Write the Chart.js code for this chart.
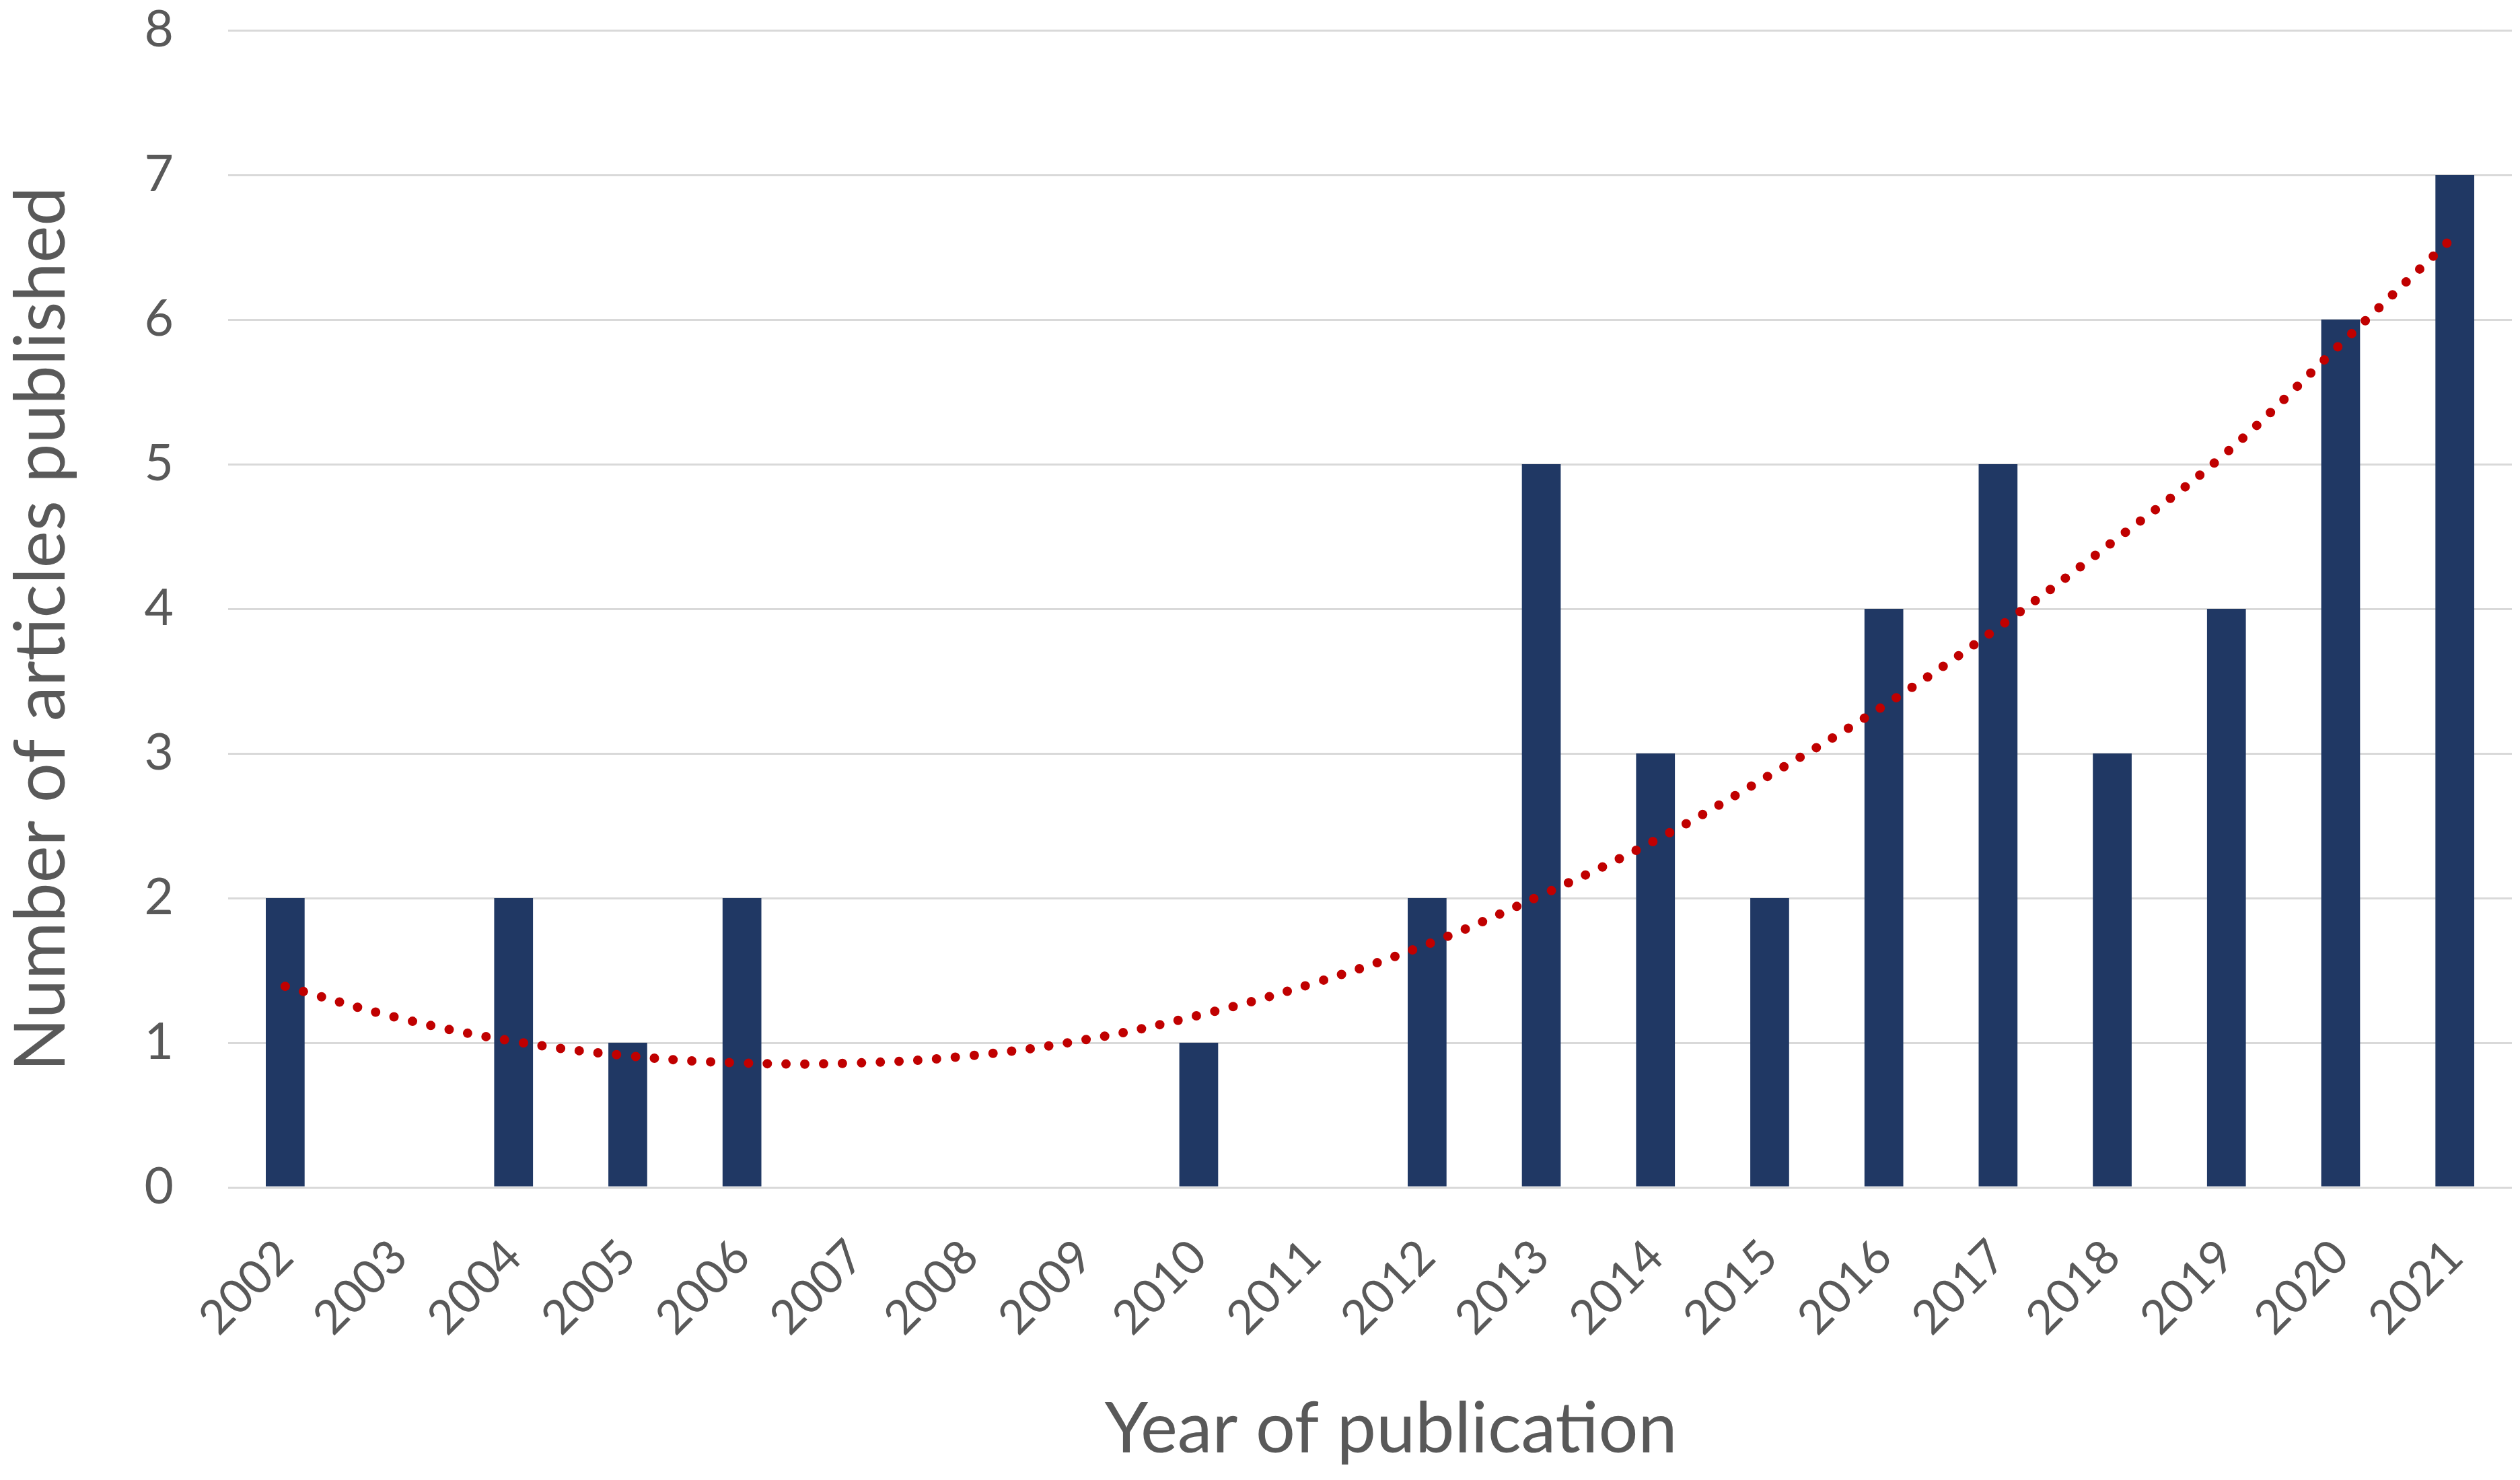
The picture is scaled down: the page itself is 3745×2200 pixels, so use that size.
<!DOCTYPE html>
<html>
<head>
<meta charset="utf-8">
<title>Articles per year</title>
<script src="https://cdn.jsdelivr.net/npm/chart.js@4.4.0/dist/chart.umd.min.js"></script>
<style>
  html, body { margin: 0; padding: 0; background: #ffffff; }
  #wrap { width: 3745px; height: 2200px; }
</style>
</head>
<body>
<div id="wrap"><canvas id="chart" width="3745" height="2200"></canvas></div>
<script>
// ===========================================================
// Number of articles published per year + polynomial trend
// ===========================================================

const years = ["2002", "2003", "2004", "2005", "2006", "2007", "2008", "2009", "2010", "2011",
               "2012", "2013", "2014", "2015", "2016", "2017", "2018", "2019", "2020", "2021"];

const articleCounts = [2, 0, 2, 1, 2, 0, 0, 0, 1, 0,
                       2, 5, 3, 2, 4, 5, 3, 4, 6, 7];

// trend line (dotted red curve)
const trendValues = [1.39, 1.17, 1.01, 0.91, 0.86, 0.86, 0.91, 1.02, 1.19, 1.41,
                     1.68, 2.02, 2.40, 2.85, 3.33, 3.87, 4.46, 5.08, 5.83, 6.58];

const yTicks = [0, 1, 2, 3, 4, 5, 6, 7, 8];

const FONT = "Lato, 'Open Sans', sans-serif";
const TEXT_GREY = "#595959";

Chart.defaults.font.family = FONT;
Chart.defaults.color = TEXT_GREY;

// axis titles in the original sit a little off-centre: nudge them
const titleNudge = {
  id: "titleNudge",
  afterLayout(chart) {
    const shifts = { x: [31, 0], y: [0, 30] };
    for (const [id, [dx, dy]] of Object.entries(shifts)) {
      const scale = chart.scales[id];
      if (!scale || scale._nudged) continue;
      const orig = scale.drawTitle.bind(scale);
      scale.drawTitle = function () {
        const c = this.ctx;
        c.save();
        c.translate(dx, dy);
        orig();
        c.restore();
      };
      scale._nudged = true;
    }
  }
};

const ctx = document.getElementById("chart");

new Chart(ctx, {
  type: "bar",
  data: {
    labels: years,
    datasets: [
      {
        type: "line",
        label: "Trend",
        data: trendValues,
        borderColor: "#C00000",
        borderWidth: 14,
        borderDash: [0, 28],
        borderCapStyle: "round",
        pointRadius: 0,
        tension: 0.4,
        fill: false,
        order: 0
      },
      {
        label: "Articles",
        data: articleCounts,
        backgroundColor: "#203864",
        categoryPercentage: 1.0,
        barPercentage: 0.34,
        order: 1
      }
    ]
  },
  plugins: [titleNudge],
  options: {
    responsive: false,
    animation: false,
    devicePixelRatio: 1,
    layout: { padding: { top: 45, right: 12, left: 0, bottom: 0 } },
    plugins: {
      legend: { display: false },
      tooltip: { enabled: false }
    },
    scales: {
      x: {
        grid: { display: false, drawTicks: false },
        border: { display: false },
        ticks: {
          font: { size: 70 },
          color: TEXT_GREY,
          minRotation: 45,
          maxRotation: 45,
          padding: 62,
          autoSkip: false
        },
        title: {
          display: true,
          text: "Year of publication",
          font: { size: 104 },
          color: TEXT_GREY,
          padding: { top: 0, bottom: 12 }
        },
        afterFit: (scale) => {
          scale.height = 435;
          scale.paddingLeft = 0;
          scale.paddingRight = 0;
        }
      },
      y: {
        min: 0,
        max: 8,
        afterBuildTicks: (scale) => { scale.ticks = yTicks.map(v => ({ value: v })); },
        grid: { color: "#D9D9D9", lineWidth: 3, drawTicks: false },
        border: { display: false },
        ticks: {
          font: { size: 75 },
          color: TEXT_GREY,
          padding: 81
        },
        title: {
          display: true,
          text: "Number of articles published",
          font: { size: 104 },
          color: TEXT_GREY,
          padding: { top: 0, bottom: 0 }
        },
        afterFit: (scale) => {
          scale.width = 339;
          scale.paddingTop = 0;
          scale.paddingBottom = 0;
        }
      }
    }
  }
});
</script>
</body>
</html>
